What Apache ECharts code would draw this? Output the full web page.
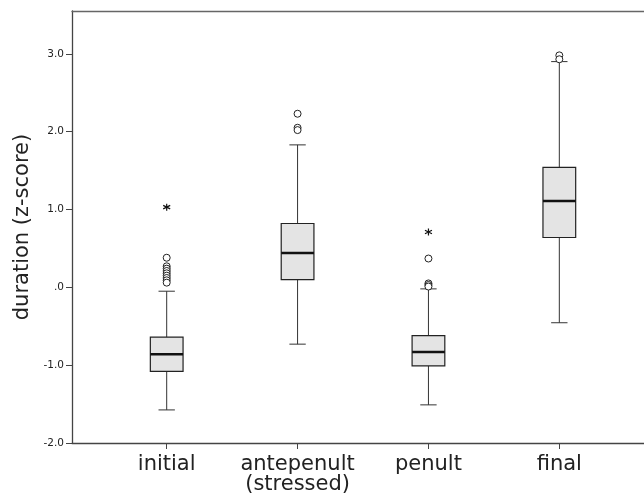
<!DOCTYPE html>
<html>
<head>
<meta charset="utf-8">
<script src="https://cdn.jsdelivr.net/npm/echarts@6/dist/echarts.min.js"></script>
<style>
  html, body { margin: 0; padding: 0; background: #fff; }
  #main { width: 644px; height: 498px; }
</style>
</head>
<body>
<div id="main"></div>
<script>
// categories and box statistics (z-score)
const categories = ['initial', 'antepenult\n(stressed)', 'penult', 'final'];
const lowerWhisker = [-1.575, -0.73, -1.51, -0.455];
const q1 = [-1.08, 0.10, -1.01, 0.64];
const median = [-0.86, 0.44, -0.83, 1.11];
const q3 = [-0.64, 0.82, -0.62, 1.54];
const upperWhisker = [-0.05, 1.83, -0.02, 2.90];

// outliers (circles) and extremes (stars): [category index, value]
const outliers = [
  [0, 0.38], [0, 0.27], [0, 0.24], [0, 0.21], [0, 0.18], [0, 0.15], [0, 0.12], [0, 0.09], [0, 0.06],
  [1, 2.23], [1, 2.05], [1, 2.02],
  [2, 0.37], [2, 0.05], [2, 0.03], [2, 0.01],
  [3, 2.98], [3, 2.93]
];
const extremes = [[0, 1.03], [2, 0.71]];

const yTicks = [-2, -1, 0, 1, 2, 3];
const yTickLabels = ['-2.0', '-1.0', '.0', '1.0', '2.0', '3.0'];

const boxData = categories.map((c, i) => [i, lowerWhisker[i], q1[i], median[i], q3[i], upperWhisker[i]]);

const chart = echarts.init(document.getElementById('main'));

function renderBox(params, api) {
  const x = api.value(0);
  const pLow = api.coord([x, api.value(1)]);
  const pQ1 = api.coord([x, api.value(2)]);
  const pMed = api.coord([x, api.value(3)]);
  const pQ3 = api.coord([x, api.value(4)]);
  const pHigh = api.coord([x, api.value(5)]);
  const halfBox = api.size([0.25, 0])[0] / 2;
  const halfCap = halfBox / 2;
  const cx = pMed[0];
  const lineStyle = { stroke: '#333', lineWidth: 1 };
  return {
    type: 'group',
    children: [
      { type: 'line', shape: { x1: cx, y1: pHigh[1], x2: cx, y2: pQ3[1] }, style: lineStyle },
      { type: 'line', shape: { x1: cx, y1: pQ1[1], x2: cx, y2: pLow[1] }, style: lineStyle },
      { type: 'line', shape: { x1: cx - halfCap, y1: pHigh[1], x2: cx + halfCap, y2: pHigh[1] }, style: lineStyle },
      { type: 'line', shape: { x1: cx - halfCap, y1: pLow[1], x2: cx + halfCap, y2: pLow[1] }, style: lineStyle },
      {
        type: 'rect',
        shape: { x: cx - halfBox, y: pQ3[1], width: halfBox * 2, height: pQ1[1] - pQ3[1] },
        style: { fill: '#e4e4e4', stroke: '#222', lineWidth: 1.2 }
      },
      { type: 'line', shape: { x1: cx - halfBox, y1: pMed[1], x2: cx + halfBox, y2: pMed[1] }, style: { stroke: '#111', lineWidth: 2.5 } }
    ]
  };
}

const option = {
  animation: false,
  backgroundColor: '#fff',
  grid: { left: 72, right: 0, top: 11, bottom: 55 },
  xAxis: [
    {
      type: 'value',
      min: -0.7236,
      max: 3.647,
      splitLine: { show: false },
      axisLine: { onZero: false, lineStyle: { color: '#444', width: 1.3 } },
      axisTick: { length: 6, customValues: [0, 1, 2, 3], lineStyle: { color: '#444' } },
      axisLabel: {
        customValues: [0, 1, 2, 3],
        formatter: v => categories[v],
        fontFamily: 'DejaVu Sans',
        fontSize: 21,
        color: '#222',
        lineHeight: 20,
        margin: 12
      }
    },
    {
      type: 'value',
      position: 'top',
      min: -0.7236,
      max: 3.647,
      splitLine: { show: false },
      axisLine: { onZero: false, lineStyle: { color: '#666', width: 1.3 } },
      axisTick: { show: false },
      axisLabel: { show: false }
    }
  ],
  yAxis: {
    type: 'value',
    min: -2,
    max: 3.55,
    splitLine: { show: false },
    name: 'duration (z-score)',
    nameLocation: 'middle',
    nameGap: 36,
    nameTextStyle: { fontFamily: 'DejaVu Sans', fontSize: 21, color: '#222' },
    axisLine: { show: true, onZero: false, lineStyle: { color: '#444', width: 1.3 } },
    axisTick: { show: true, length: 6, customValues: yTicks, lineStyle: { color: '#444' } },
    axisLabel: {
      customValues: yTicks,
      formatter: v => yTickLabels[yTicks.indexOf(v)],
      fontFamily: 'DejaVu Sans',
      fontSize: 10.5,
      color: '#222',
      margin: 8
    }
  },
  series: [
    {
      type: 'custom',
      renderItem: renderBox,
      encode: { x: 0, y: [1, 2, 3, 4, 5] },
      data: boxData,
      z: 2
    },
    {
      type: 'scatter',
      data: outliers,
      symbol: 'circle',
      symbolSize: 7,
      itemStyle: { color: '#fff', borderColor: '#222', borderWidth: 1, opacity: 1 },
      z: 3
    },
    {
      type: 'scatter',
      data: extremes,
      symbol: 'path://M0,-10L0,10M-8.66,-5L8.66,5M-8.66,5L8.66,-5',
      symbolSize: 7,
      itemStyle: { color: 'none', borderColor: '#111', borderWidth: 1.2, opacity: 1 },
      z: 3
    }
  ]
};

chart.setOption(option);
</script>
</body>
</html>
